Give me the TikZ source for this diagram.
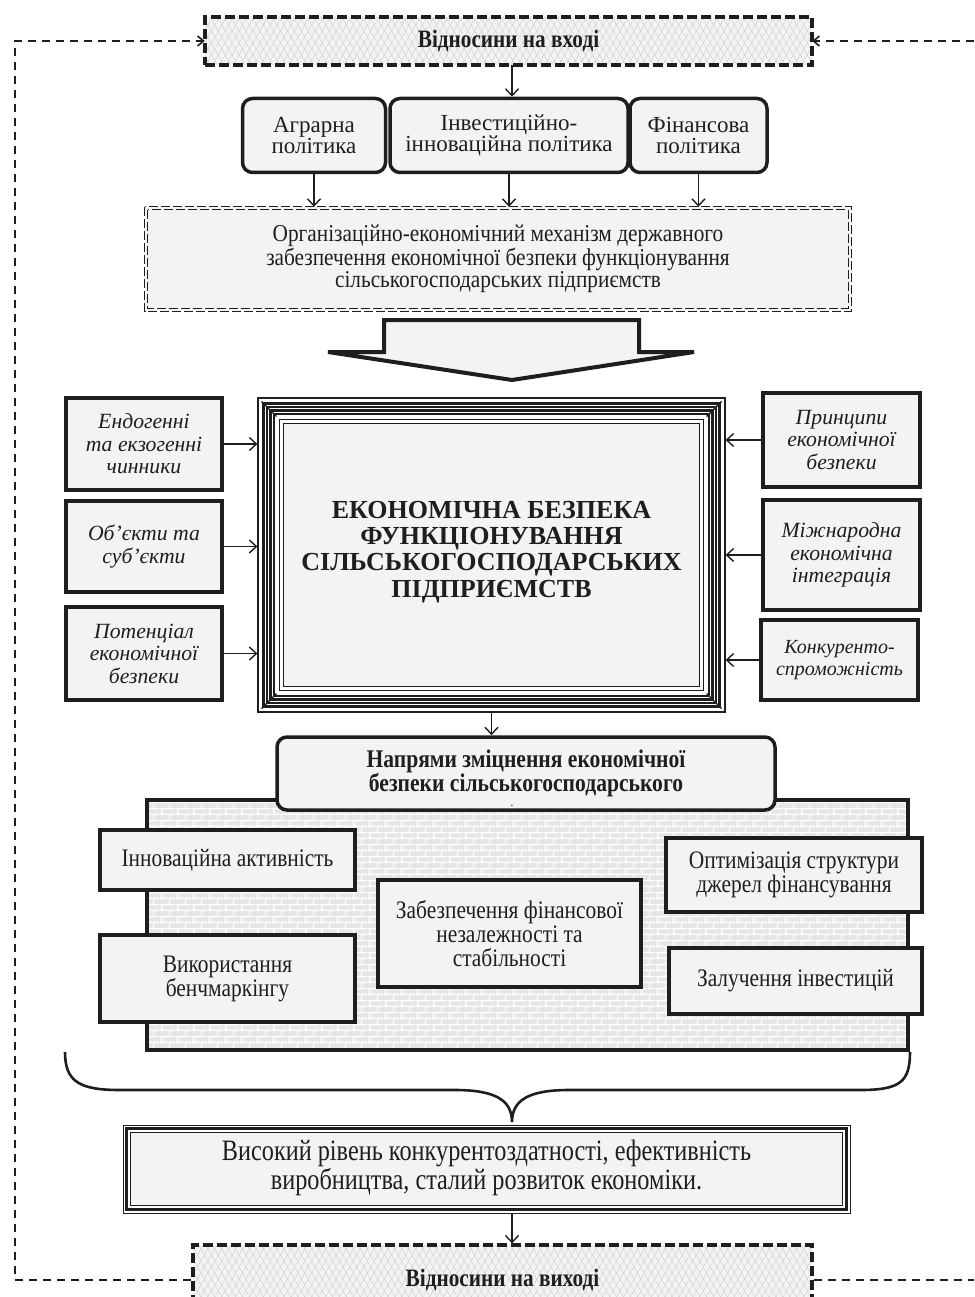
\documentclass[tikz,border=0pt]{standalone}
\usepackage{fontspec}
\setmainfont{Liberation Serif}
\newfontfamily\cfont[FakeStretch=0.85]{Liberation Serif}
\newfontfamily\ccfont[FakeStretch=0.82]{Liberation Serif}
\newfontfamily\mfont[FakeStretch=0.88]{Liberation Serif}
\usetikzlibrary{patterns,patterns.meta,arrows.meta,calc}
\definecolor{bfill}{RGB}{242,243,242}
\definecolor{pfill}{RGB}{230,230,230}
\definecolor{txt}{RGB}{30,30,30}
\pgfdeclarepatternformonly{mybricks}{\pgfpointorigin}{\pgfpoint{16pt}{12pt}}{\pgfpoint{16pt}{12pt}}{%
 \pgfsetlinewidth{1.4pt}%
 \pgfpathmoveto{\pgfpoint{0pt}{3pt}}\pgfpathlineto{\pgfpoint{16pt}{3pt}}%
 \pgfpathmoveto{\pgfpoint{0pt}{9pt}}\pgfpathlineto{\pgfpoint{16pt}{9pt}}%
 \pgfpathmoveto{\pgfpoint{2pt}{3pt}}\pgfpathlineto{\pgfpoint{2pt}{9pt}}%
 \pgfpathmoveto{\pgfpoint{10pt}{9pt}}\pgfpathlineto{\pgfpoint{10pt}{12pt}}%
 \pgfpathmoveto{\pgfpoint{10pt}{0pt}}\pgfpathlineto{\pgfpoint{10pt}{3pt}}%
 \pgfusepath{stroke}}
\tikzset{
 arr/.style={-{Straight Barb[length=7pt,width=13pt]}, line width=1.4pt, draw=txt},
 fb/.style={line width=1.6pt, dash pattern=on 8pt off 6pt, draw=txt},
 fbarr/.style={fb, -{Straight Barb[length=6pt,width=10pt]}},
 relbox/.style={draw=txt, line width=3.2pt, dash pattern=on 10pt off 4pt,
   preaction={fill=bfill},
   preaction={pattern={Lines[angle=60,distance=6pt,line width=0.4pt]}, pattern color=gray!40},
   pattern={Lines[angle=-60,distance=6pt,line width=0.4pt]}, pattern color=gray!40,
   inner sep=0pt, font=\cfont\bfseries\fontsize{25}{26}\selectfont},
 polbox/.style={draw=txt, line width=3.5pt, rounded corners=10pt, fill=bfill, align=center,
   inner sep=0pt, font=\fontsize{23}{21.5}\selectfont},
 sidebox/.style={draw=txt, line width=4pt, fill=bfill, align=center, inner sep=0pt,
   font=\itshape\fontsize{21.7}{22.5}\selectfont},
 inbox/.style={draw=txt, line width=4pt, fill=bfill, align=center, inner sep=0pt,
   font=\cfont\fontsize{25.2}{24}\selectfont},
}
\begin{document}
\begin{tikzpicture}[x=1pt,y=-1pt,text=txt]
\useasboundingbox (0,0) rectangle (974,1297);
% top and bottom relation boxes
\node[relbox, minimum width=607, minimum height=48] (in) at (508.5,41) {Відносини на вході};
\node[relbox, minimum width=619, minimum height=70] (out) at (502.5,1280) {Відносини на виході};
\coordinate (ax) at (512,0);
\coordinate (lt) at (15,41);
\coordinate (lb) at (15,1280);
\coordinate (rt) at (974,41);
\coordinate (rb) at (974,1280);
\draw[fbarr] (out.west) -- (lb) -- (lt) -- (in.west);
\draw[fbarr] (rt) -- (in.east);
\draw[fb] (out.east) -- (rb);
% policies
\node[polbox, minimum width=143, minimum height=74] (p1) at (314,135.5) {Аграрна\\політика};
\node[polbox, minimum width=238, minimum height=74] (p2) at (509,135.5) {Інвестиційно-\\інноваційна політика};
\node[polbox, minimum width=137, minimum height=74] (p3) at (698.5,135.5) {Фінансова\\політика};
\draw[arr] (in.south -| ax) -- (p2.north -| ax);
% mechanism
\node[minimum width=706, minimum height=104, fill=bfill, align=center, inner sep=0pt,
  font=\mfont\fontsize{24.2}{20.7}\selectfont] (mech) at (498,259)
  {Організаційно-економічний механізм державного\\забезпечення економічної безпеки функціонування\\сільськогосподарських підприємств};
\draw[line width=0.9pt, dash pattern=on 9pt off 3pt, draw=txt] (mech.north west) rectangle (mech.south east);
\draw[line width=0.9pt, dash pattern=on 9pt off 3pt, draw=txt] ($(mech.north west)+(3,3)$) rectangle ($(mech.south east)+(-3,-3)$);
\draw[arr] (p1.south) -- (p1.south |- mech.north);
\draw[arr] (p2.south) -- (p2.south |- mech.north);
\draw[arr] (p3.south) -- (p3.south |- mech.north);
% big arrow
\draw[line width=4pt, draw=txt, fill=bfill, line join=miter]
  (384,320) -- (639,320) -- (639,352) -- (694,352) -- (512,380) -- (328,352) -- (384,352) -- cycle;
% central box
\node[minimum width=467, minimum height=314, inner sep=0pt, draw=txt, line width=1.2pt] (cen) at (491.5,555) {};
\draw[line width=3pt, draw=txt] ($(cen.north west)+(6,6)$) rectangle ($(cen.south east)+(-6,-6)$);
\draw[line width=2.6pt, draw=txt] ($(cen.north west)+(9.5,9.5)$) rectangle ($(cen.south east)+(-9.5,-9.5)$);
\draw[line width=2.6pt, draw=txt] ($(cen.north west)+(13,13)$) rectangle ($(cen.south east)+(-13,-13)$);
\draw[line width=1.6pt, draw=txt] ($(cen.north west)+(16.5,16.5)$) rectangle ($(cen.south east)+(-16.5,-16.5)$);
\draw[line width=1.3pt, draw=txt] ($(cen.north west)+(22,22)$) rectangle ($(cen.south east)+(-22,-22)$);
\draw[line width=1.3pt, draw=txt, fill=bfill] ($(cen.north west)+(26,26)$) rectangle ($(cen.south east)+(-26,-26)$);
\foreach \a/\sx/\sy in {north west/1/1, north east/-1/1, south west/1/-1, south east/-1/-1}{
  \draw[line width=1.4pt, draw=txt] ($(cen.\a)+(4*\sx,4*\sy)$) -- ($(cen.\a)+(19*\sx,19*\sy)$);
}
\node[align=center, font=\bfseries\fontsize{26}{26.3}\selectfont] (ctext) at (491.5,552)
  {ЕКОНОМІЧНА БЕЗПЕКА\\ФУНКЦІОНУВАННЯ\\СІЛЬСЬКОГОСПОДАРСЬКИХ\\ПІДПРИЄМСТВ};
% side boxes
\node[sidebox, minimum width=156, minimum height=92] (l1) at (144,444) {Ендогенні\\та екзогенні\\чинники};
\node[sidebox, minimum width=156, minimum height=91] (l2) at (144,546.5) {Об’єкти та\\суб’єкти};
\node[sidebox, minimum width=156, minimum height=93] (l3) at (144,653.5) {Потенціал\\економічної\\безпеки};
\node[sidebox, minimum width=157, minimum height=94] (r1) at (841.5,440) {Принципи\\економічної\\безпеки};
\node[sidebox, minimum width=157, minimum height=110] (r2) at (841.5,555) {Міжнародна\\економічна\\інтеграція};
\node[sidebox, minimum width=157, minimum height=80, font=\itshape\fontsize{20}{22}\selectfont] (r3) at (839.5,660) {Конкуренто-\\спроможність};
\foreach \n in {l1,l2,l3}{\draw[arr] (\n.east) -- (\n.east -| cen.west);}
\foreach \n in {r1,r2,r3}{\draw[arr] (\n.west) -- (\n.west -| cen.east);}
% brick panel
\node[draw=txt, line width=4pt, preaction={fill=pfill}, pattern=mybricks, pattern color=white,
  minimum width=761, minimum height=250, inner sep=0pt] (panel) at (527.5,925) {};
\node[polbox, minimum width=498, minimum height=73, font=\cfont\bfseries\fontsize{25.4}{22}\selectfont] (nap) at (526,773.5)
  {Напрями зміцнення економічної\\безпеки сільськогосподарського};
\node[inner sep=0pt, font=\bfseries\fontsize{9}{9}\selectfont] (napdot) at (512,806) {.};
\draw[arr] (cen.south) -- (cen.south |- nap.north);
\node[inbox, minimum width=255, minimum height=60] (b1) at (227.5,860) {Інноваційна активність};
\node[inbox, minimum width=255, minimum height=87] (b2) at (227.5,978.5) {Використання\\бенчмаркінгу};
\node[inbox, minimum width=263, minimum height=107] (b3) at (509.5,933.5) {Забезпечення фінансової\\незалежності та\\стабільності};
\node[inbox, minimum width=256, minimum height=74] (b4) at (794,875) {Оптимізація структури\\джерел фінансування};
\node[inbox, minimum width=253, minimum height=66] (b5) at (795.5,981) {Залучення інвестицій};
% brace
\coordinate (bl) at (65,1052);
\coordinate (br) at (910,1052);
\coordinate (btip) at (512,1122);
\draw[line width=2.6pt, draw=txt] (bl) .. controls (65,1082) and (80,1090) .. (120,1090) -- (455,1090)
  .. controls (495,1090) and (512,1100) .. (btip)
  .. controls (512,1100) and (529,1090) .. (569,1090) -- (860,1090)
  .. controls (900,1090) and (910,1082) .. (br);
% final box
\node[minimum width=727, minimum height=88, inner sep=0pt, draw=txt, line width=1pt] (fin) at (486.5,1169) {};
\draw[line width=2.6pt, draw=txt] ($(fin.north west)+(4,4)$) rectangle ($(fin.south east)+(-4,-4)$);
\draw[line width=1pt, draw=txt, fill=bfill] ($(fin.north west)+(8,8)$) rectangle ($(fin.south east)+(-8,-8)$);
\node[align=center, font=\ccfont\fontsize{29.6}{29}\selectfont] (ftext) at (486.5,1168)
  {Високий рівень конкурентоздатності, ефективність\\виробництва, сталий розвиток економіки.};
\draw[arr] (fin.south -| ax) -- (out.north -| ax);
\end{tikzpicture}
\end{document}
